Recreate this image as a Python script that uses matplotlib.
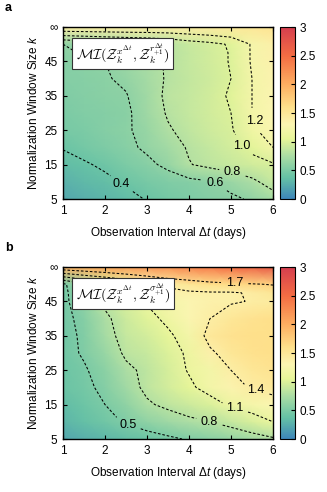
import numpy as np
import matplotlib
matplotlib.use("Agg")
import matplotlib.pyplot as plt
from matplotlib.colors import LinearSegmentedColormap

plt.rcParams['font.family'] = ['Liberation Sans', 'DejaVu Sans']
plt.rcParams['mathtext.fontset'] = 'custom'
plt.rcParams['mathtext.rm'] = 'Liberation Sans'
plt.rcParams['mathtext.it'] = 'Liberation Sans:italic'

# ---- data ----
dt_days = [1.0, 1.5, 2.0, 2.5, 3.0, 3.5, 4.0, 4.5, 5.0, 5.5, 6.0]
window_k = [5, 10, 15, 20, 25, 30, 35, 40, 45, 47.5, 50, 55]   # 55 == infinity

mi_a = [
    [0.22, 0.26, 0.30, 0.35, 0.41, 0.46, 0.50, 0.54, 0.57, 0.62, 0.72],
    [0.28, 0.32, 0.36, 0.42, 0.47, 0.52, 0.55, 0.59, 0.66, 0.76, 0.88],
    [0.34, 0.38, 0.43, 0.50, 0.56, 0.64, 0.79, 0.85, 0.90, 0.94, 0.98],
    [0.41, 0.46, 0.51, 0.56, 0.63, 0.71, 0.82, 0.88, 0.95, 1.04, 1.20],
    [0.47, 0.50, 0.54, 0.58, 0.65, 0.78, 0.86, 0.93, 0.98, 1.17, 1.28],
    [0.50, 0.53, 0.55, 0.57, 0.68, 0.82, 0.88, 0.94, 1.00, 1.20, 1.30],
    [0.52, 0.55, 0.57, 0.59, 0.70, 0.84, 0.88, 0.94, 1.02, 1.20, 1.32],
    [0.54, 0.56, 0.585, 0.63, 0.72, 0.82, 0.87, 0.93, 1.00, 1.20, 1.33],
    [0.56, 0.58, 0.60, 0.67, 0.74, 0.82, 0.88, 0.94, 1.01, 1.22, 1.35],
    [0.58, 0.61, 0.65, 0.70, 0.75, 0.82, 0.89, 0.94, 1.01, 1.22, 1.36],
    [0.60, 0.65, 0.70, 0.74, 0.77, 0.82, 0.90, 0.95, 1.02, 1.22, 1.38],
    [1.40, 1.40, 1.40, 1.40, 1.40, 1.40, 1.41, 1.43, 1.46, 1.50, 1.55],
]

mi_b = [
    [0.20, 0.26, 0.31, 0.36, 0.41, 0.46, 0.52, 0.57, 0.63, 0.70, 0.77],
    [0.30, 0.37, 0.44, 0.52, 0.60, 0.68, 0.75, 0.80, 0.88, 0.98, 1.10],
    [0.35, 0.42, 0.50, 0.60, 0.77, 0.85, 0.92, 0.99, 1.14, 1.22, 1.30],
    [0.40, 0.46, 0.54, 0.70, 0.85, 0.95, 1.05, 1.20, 1.33, 1.42, 1.48],
    [0.42, 0.48, 0.58, 0.75, 0.85, 0.97, 1.12, 1.20, 1.40, 1.50, 1.55],
    [0.44, 0.52, 0.65, 0.84, 0.90, 1.00, 1.14, 1.36, 1.50, 1.58, 1.60],
    [0.44, 0.53, 0.72, 0.88, 0.96, 1.06, 1.20, 1.48, 1.56, 1.60, 1.60],
    [0.45, 0.55, 0.75, 0.92, 1.03, 1.15, 1.28, 1.40, 1.50, 1.56, 1.60],
    [0.46, 0.60, 0.85, 0.98, 1.12, 1.22, 1.30, 1.35, 1.38, 1.41, 1.45],
    [0.45, 0.65, 0.90, 1.05, 1.20, 1.33, 1.37, 1.38, 1.38, 1.42, 1.52],
    [0.45, 0.75, 0.95, 1.13, 1.30, 1.45, 1.52, 1.60, 1.64, 1.68, 1.72],
    [1.95, 2.00, 2.05, 2.10, 2.15, 2.20, 2.30, 2.40, 2.50, 2.60, 2.70],
]

levels_a = [0.4, 0.6, 0.8, 1.0, 1.2]
levels_b = [0.5, 0.8, 1.1, 1.4, 1.7]
label_pos_a = [(2.4, 9.5), (4.65, 10.0), (5.05, 13.3), (5.3, 20.5), (5.5, 27.4)]
label_pos_b = [(2.55, 9.5), (4.49, 10.2), (5.09, 13.8), (5.6, 19.1), (5.09, 51.1)]

xticks = [1, 2, 3, 4, 5, 6]
yticks = [5, 15, 25, 35, 45, 55]
ytick_labels = ['5', '15', '25', '35', '45', '\u221e']
cbar_ticks = [0, 0.5, 1, 1.5, 2, 2.5, 3]
cbar_labels = ['0', '0.5', '1', '1.5', '2', '2.5', '3']

box_a = r'$\mathcal{MI}(\mathcal{Z}_k^{x^{\Delta t}},\mathcal{Z}_k^{r_{+1}^{\Delta t}})$'
box_b = r'$\mathcal{MI}(\mathcal{Z}_k^{x^{\Delta t}},\mathcal{Z}_k^{\sigma_{+1}^{\Delta t}})$'

cmap = LinearSegmentedColormap.from_list('mi', [
    (0.0, '#3d86b9'),
    (0.375 / 3, '#66c2a5'),
    (0.75 / 3, '#abdda4'),
    (1.05 / 3, '#e6f598'),
    (1.3 / 3, '#fbf5b2'),
    (1.6 / 3, '#fee08b'),
    (2.0 / 3, '#fdae61'),
    (2.5 / 3, '#f46d43'),
    (1.0, '#d53e4f'),
])

W, H = 327, 492
fig = plt.figure(figsize=(W / 100, H / 100), dpi=100)


def fx(px):
    return px / W


def fy(py):
    return 1 - py / H


panels = [
    (mi_a, levels_a, label_pos_a, box_a, 27, 'a', 8),
    (mi_b, levels_b, label_pos_b, box_b, 267, 'b', 248),
]

X, K = np.meshgrid(dt_days, window_k)

for data, levels, lpos, boxtxt, top, letter, ly in panels:
    Z = np.array(data)
    ax = fig.add_axes([fx(63), fy(top + 172), fx(210), 172 / H])
    mesh = ax.pcolormesh(X, K, Z, shading='gouraud', cmap=cmap, vmin=0, vmax=3,
                         rasterized=True)
    cs = ax.contour(X, K, Z, levels=levels, colors='k', linewidths=0.75,
                    linestyles=[(0, (2.5, 1.8))])
    labels = ax.clabel(cs, fmt='%.1f', fontsize=9, manual=lpos, inline=True,
                       inline_spacing=5)
    for t in labels:
        t.set_rotation(0)
    ax.set_xlim(1, 6)
    ax.set_ylim(5, 55)
    ax.set_xticks(xticks)
    ax.set_yticks(yticks)
    ax.set_yticklabels(ytick_labels)
    ax.tick_params(direction='in', top=True, right=True, length=3, width=0.8,
                   labelsize=8.5, pad=4)
    for s in ax.spines.values():
        s.set_linewidth(1.0)
    ax.set_xlabel(r'Observation Interval $\Delta t$ (days)', fontsize=8.5, labelpad=6)
    ax.set_ylabel(r'Normalization Window Size $k$', fontsize=8.5, labelpad=3)
    ax.text(0.06, 0.845, boxtxt, transform=ax.transAxes, fontsize=10, ha='left',
            va='center', math_fontfamily='cm', zorder=5,
            bbox=dict(boxstyle='square,pad=0.25', fc='white', ec='#333333', lw=0.8))
    fig.text(fx(5), fy(ly), letter, fontsize=9, fontweight='bold', ha='left', va='center')

    cax = fig.add_axes([fx(280), fy(top + 172), fx(15), 172 / H])
    cb = fig.colorbar(mesh, cax=cax, ticks=cbar_ticks)
    cb.ax.set_yticklabels(cbar_labels)
    cb.ax.tick_params(direction='in', length=3, width=0.8, labelsize=8.5, pad=3)
    cb.outline.set_linewidth(0.8)

fig.savefig('out.png', dpi=100)
